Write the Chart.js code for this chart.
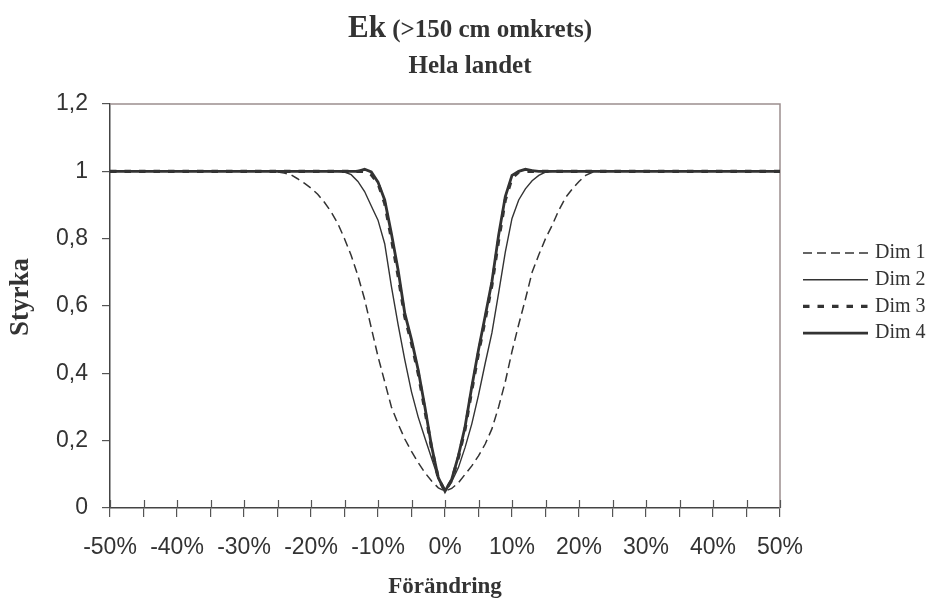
<!DOCTYPE html>
<html lang="sv">
<head>
<meta charset="utf-8">
<title>Ek (&gt;150 cm omkrets) – Hela landet</title>
<script src="https://cdn.jsdelivr.net/npm/chart.js@4.4.1/dist/chart.umd.min.js"></script>
<style>
  html, body { margin: 0; padding: 0; background: #fff; }
  #wrap { width: 936px; height: 602px; position: relative; }
</style>
</head>
<body>
<div id="wrap"><canvas id="chart"></canvas></div>
<script>
// ------------------------------------------------------------
// Data: Förändring (%) och Styrka för fyra dimensioner
// ------------------------------------------------------------
const forandring = [
  -50, -40, -30,
  -26, -25, -24, -23, -22, -21, -20, -19, -18, -17,
  -16, -15, -14, -13, -12, -11, -10, -9, -8, -7,
  -6, -5, -4, -3, -2, -1, 0, 1, 2, 3,
  4, 5, 6, 7, 8, 9, 10, 11, 12, 13,
  14, 15, 16, 17, 18, 19, 20, 21, 22, 23,
  24, 25, 26,
  30, 40, 50
];

const dim1 = [
  1, 1, 1,
  1, 0.998, 0.995, 0.99, 0.978, 0.965, 0.95, 0.932, 0.908, 0.88,
  0.845, 0.80, 0.75, 0.69, 0.62, 0.535, 0.45, 0.375, 0.30, 0.25,
  0.205, 0.168, 0.135, 0.105, 0.08, 0.06, 0.05, 0.058, 0.075, 0.10,
  0.125, 0.155, 0.19, 0.235, 0.30, 0.375, 0.465, 0.545, 0.62, 0.70,
  0.752, 0.80, 0.84, 0.885, 0.922, 0.948, 0.97, 0.988, 0.997, 1,
  1, 1, 1,
  1, 1, 1
];

const dim2 = [
  1, 1, 1,
  1, 1, 1, 1, 1, 1, 1, 1, 1, 1,
  1, 0.998, 0.99, 0.97, 0.94, 0.897, 0.855, 0.785, 0.658, 0.545,
  0.44, 0.345, 0.27, 0.208, 0.148, 0.088, 0.05, 0.078, 0.12, 0.18,
  0.25, 0.335, 0.43, 0.52, 0.638, 0.76, 0.86, 0.915, 0.948, 0.972,
  0.988, 0.998, 1, 1, 1, 1, 1, 1, 1, 1,
  1, 1, 1,
  1, 1, 1
];

const dim3 = [
  1, 1, 1,
  1, 1, 1, 1, 1, 1, 1, 1, 1, 1,
  1, 1, 1, 1, 1, 0.99, 0.965, 0.905, 0.80, 0.69,
  0.568, 0.49, 0.40, 0.29, 0.178, 0.088, 0.05, 0.082, 0.15, 0.235,
  0.35, 0.46, 0.56, 0.662, 0.795, 0.915, 0.98, 0.998, 1, 1,
  1, 1, 1, 1, 1, 1, 1, 1, 1, 1,
  1, 1, 1,
  1, 1, 1
];

const dim4 = [
  1, 1, 1,
  1, 1, 1, 1, 1, 1, 1, 1, 1, 1,
  1, 1, 1, 1, 1.006, 0.998, 0.968, 0.915, 0.815, 0.707,
  0.578, 0.50, 0.41, 0.30, 0.183, 0.09, 0.05, 0.085, 0.155, 0.242,
  0.36, 0.47, 0.57, 0.672, 0.81, 0.925, 0.988, 1, 1.006, 1.002,
  1, 1, 1, 1, 1, 1, 1, 1, 1, 1,
  1, 1, 1,
  1, 1, 1
];

const serieNamn = ['Dim 1', 'Dim 2', 'Dim 3', 'Dim 4'];

// ------------------------------------------------------------
// Utseende
// ------------------------------------------------------------
const LINJE  = '#333333';
const TEXT   = '#333333';
const AXEL   = '#444444';
const RAM    = '#9c8e8e';
const SANS   = "'Liberation Sans', Arial, sans-serif";
const SERIF  = "'Liberation Serif', 'Times New Roman', serif";

const punkter = ys => forandring.map((x, i) => ({ x, y: ys[i] }));

// titel, y-axelns rubrik, ram, korsade x-streck och förklaring ritas här
const extraPlugin = {
  id: 'extra',
  beforeDatasetsDraw(chart) {
    const { ctx, chartArea: a, scales } = chart;
    ctx.save();
    // ram upptill och till höger
    ctx.strokeStyle = RAM;
    ctx.lineWidth = 1.5;
    ctx.beginPath();
    ctx.moveTo(a.left, a.top);
    ctx.lineTo(a.right, a.top);
    ctx.lineTo(a.right, a.bottom);
    ctx.stroke();
    // x-strecken går även in i diagramytan
    ctx.strokeStyle = '#555';
    ctx.lineWidth = 1.2;
    scales.x.ticks.forEach(t => {
      const px = Math.round(scales.x.getPixelForValue(t.value)) + 0.5;
      ctx.beginPath();
      ctx.moveTo(px, a.bottom - 8);
      ctx.lineTo(px, a.bottom);
      ctx.stroke();
    });
    ctx.restore();
  },
  afterDraw(chart) {
    const { ctx } = chart;
    ctx.save();
    ctx.fillStyle = TEXT;
    ctx.textBaseline = 'alphabetic';

    // titel
    const f1 = 'bold 31px ' + SERIF;
    const f2 = 'bold 25px ' + SERIF;
    const t1 = 'Ek';
    const t2 = ' (>150 cm omkrets)';
    ctx.font = f1; const w1 = ctx.measureText(t1).width;
    ctx.font = f2; const w2 = ctx.measureText(t2).width;
    const x0 = 470 - (w1 + w2) / 2;
    ctx.textAlign = 'left';
    ctx.font = f1; ctx.fillText(t1, x0, 37);
    ctx.font = f2; ctx.fillText(t2, x0 + w1, 37);
    ctx.textAlign = 'center';
    ctx.fillText('Hela landet', 470, 73);

    // y-axelns rubrik
    ctx.save();
    ctx.translate(28, 297);
    ctx.rotate(-Math.PI / 2);
    ctx.font = 'bold 27px ' + SERIF;
    ctx.textAlign = 'center';
    ctx.fillText('Styrka', 0, 0);
    ctx.restore();

    // förklaring
    ctx.font = '20px ' + SERIF;
    ctx.textAlign = 'left';
    ctx.textBaseline = 'middle';
    chart.data.datasets.forEach((ds, i) => {
      const y = 253 + i * 26.7;
      ctx.strokeStyle = ds.borderColor;
      ctx.lineWidth = ds.borderWidth;
      ctx.setLineDash(ds.borderDash || []);
      ctx.beginPath();
      ctx.moveTo(803, y);
      ctx.lineTo(868, y);
      ctx.stroke();
      ctx.setLineDash([]);
      ctx.fillText(ds.label, 875, y);
    });
    ctx.restore();
  }
};

new Chart(document.getElementById('chart'), {
  type: 'line',
  data: {
    datasets: [
      { label: serieNamn[0], data: punkter(dim1), borderColor: LINJE, borderWidth: 1.5, borderDash: [9, 5] },
      { label: serieNamn[1], data: punkter(dim2), borderColor: LINJE, borderWidth: 1.4 },
      { label: serieNamn[2], data: punkter(dim3), borderColor: LINJE, borderWidth: 3.2, borderDash: [6.5, 8] },
      { label: serieNamn[3], data: punkter(dim4), borderColor: LINJE, borderWidth: 2.8 }
    ]
  },
  options: {
    responsive: true,
    maintainAspectRatio: false,
    animation: false,
    devicePixelRatio: 1,
    elements: { point: { radius: 0 }, line: { tension: 0, fill: false, borderCapStyle: 'butt' } },
    layout: { padding: { top: 104, right: 156, left: 0, bottom: 0 } },
    plugins: {
      legend: { display: false },
      tooltip: { enabled: false }
    },
    scales: {
      x: {
        type: 'linear',
        min: -50,
        max: 50,
        afterFit: s => { s.height = 94; },
        border: { display: true, color: AXEL, width: 1.5 },
        grid: { drawOnChartArea: false, drawTicks: true, tickLength: 9, color: '#555', lineWidth: 1.2 },
        ticks: {
          stepSize: 5,
          padding: 17,
          maxRotation: 0,
          autoSkip: false,
          color: TEXT,
          font: { family: SANS, size: 23 },
          callback: v => (v % 10 === 0 ? v + '%' : '')
        },
        title: {
          display: true,
          text: 'Förändring',
          color: TEXT,
          font: { family: SERIF, size: 23, weight: 'bold' },
          padding: { top: 0, bottom: 1 }
        }
      },
      y: {
        min: 0,
        max: 1.2,
        afterFit: s => { s.width = 110; },
        border: { display: true, color: AXEL, width: 1.5 },
        grid: { drawOnChartArea: false, drawTicks: true, tickLength: 8, color: '#555', lineWidth: 1.2 },
        ticks: {
          stepSize: 0.2,
          padding: 14,
          color: TEXT,
          font: { family: SANS, size: 23 },
          callback: v => String(Number(v.toFixed(1))).replace('.', ',')
        }
      }
    }
  },
  plugins: [extraPlugin]
});
</script>
</body>
</html>
